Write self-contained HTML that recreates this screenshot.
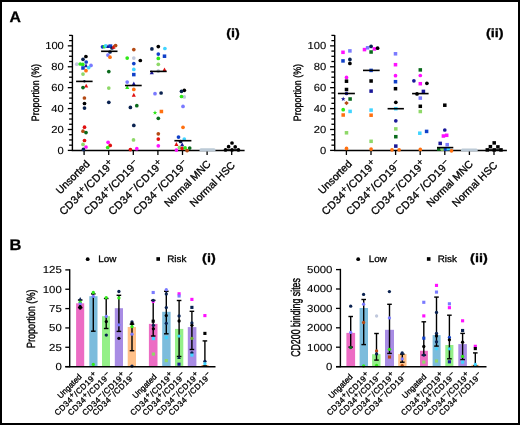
<!DOCTYPE html>
<html><head><meta charset="utf-8"><style>
html,body{margin:0;padding:0;background:#fff;}
svg{display:block;will-change:transform;}
text{font-family:"Liberation Sans",sans-serif;fill:#000;stroke:#000;stroke-width:0.3px;text-rendering:geometricPrecision;}
.tk{stroke-width:0.12px;}
</style></head><body>
<svg width="520" height="425" viewBox="0 0 520 425">
<rect x="0" y="0" width="520" height="425" fill="#fff"/>
<line x1="72.40" y1="35.09" x2="72.40" y2="151.05" stroke="#000" stroke-width="1.4"/>
<line x1="67.80" y1="150.40" x2="72.40" y2="150.40" stroke="#000" stroke-width="1.3"/>
<line x1="69.10" y1="145.17" x2="72.40" y2="145.17" stroke="#000" stroke-width="1.3"/>
<line x1="69.10" y1="139.94" x2="72.40" y2="139.94" stroke="#000" stroke-width="1.3"/>
<line x1="69.10" y1="134.72" x2="72.40" y2="134.72" stroke="#000" stroke-width="1.3"/>
<line x1="67.80" y1="129.49" x2="72.40" y2="129.49" stroke="#000" stroke-width="1.3"/>
<line x1="69.10" y1="124.26" x2="72.40" y2="124.26" stroke="#000" stroke-width="1.3"/>
<line x1="69.10" y1="119.03" x2="72.40" y2="119.03" stroke="#000" stroke-width="1.3"/>
<line x1="69.10" y1="113.81" x2="72.40" y2="113.81" stroke="#000" stroke-width="1.3"/>
<line x1="67.80" y1="108.58" x2="72.40" y2="108.58" stroke="#000" stroke-width="1.3"/>
<line x1="69.10" y1="103.35" x2="72.40" y2="103.35" stroke="#000" stroke-width="1.3"/>
<line x1="69.10" y1="98.12" x2="72.40" y2="98.12" stroke="#000" stroke-width="1.3"/>
<line x1="69.10" y1="92.90" x2="72.40" y2="92.90" stroke="#000" stroke-width="1.3"/>
<line x1="67.80" y1="87.67" x2="72.40" y2="87.67" stroke="#000" stroke-width="1.3"/>
<line x1="69.10" y1="82.44" x2="72.40" y2="82.44" stroke="#000" stroke-width="1.3"/>
<line x1="69.10" y1="77.22" x2="72.40" y2="77.22" stroke="#000" stroke-width="1.3"/>
<line x1="69.10" y1="71.99" x2="72.40" y2="71.99" stroke="#000" stroke-width="1.3"/>
<line x1="67.80" y1="66.76" x2="72.40" y2="66.76" stroke="#000" stroke-width="1.3"/>
<line x1="69.10" y1="61.53" x2="72.40" y2="61.53" stroke="#000" stroke-width="1.3"/>
<line x1="69.10" y1="56.30" x2="72.40" y2="56.30" stroke="#000" stroke-width="1.3"/>
<line x1="69.10" y1="51.08" x2="72.40" y2="51.08" stroke="#000" stroke-width="1.3"/>
<line x1="67.80" y1="45.85" x2="72.40" y2="45.85" stroke="#000" stroke-width="1.3"/>
<line x1="69.10" y1="40.62" x2="72.40" y2="40.62" stroke="#000" stroke-width="1.3"/>
<line x1="69.10" y1="35.39" x2="72.40" y2="35.39" stroke="#000" stroke-width="1.3"/>
<text transform="translate(63.85,154.00) scale(1.1,1)" font-size="10.2" text-anchor="end" font-weight="normal" class="tk">0</text>
<text transform="translate(63.85,133.09) scale(1.1,1)" font-size="10.2" text-anchor="end" font-weight="normal" class="tk">20</text>
<text transform="translate(63.85,112.18) scale(1.1,1)" font-size="10.2" text-anchor="end" font-weight="normal" class="tk">40</text>
<text transform="translate(63.85,91.27) scale(1.1,1)" font-size="10.2" text-anchor="end" font-weight="normal" class="tk">60</text>
<text transform="translate(63.85,70.36) scale(1.1,1)" font-size="10.2" text-anchor="end" font-weight="normal" class="tk">80</text>
<text transform="translate(63.85,49.45) scale(1.1,1)" font-size="10.2" text-anchor="end" font-weight="normal" class="tk">100</text>
<line x1="71.70" y1="150.40" x2="244.60" y2="150.40" stroke="#000" stroke-width="1.5"/>
<line x1="84.10" y1="150.40" x2="84.10" y2="155.00" stroke="#000" stroke-width="1.3"/>
<line x1="108.70" y1="150.40" x2="108.70" y2="155.00" stroke="#000" stroke-width="1.3"/>
<line x1="133.30" y1="150.40" x2="133.30" y2="155.00" stroke="#000" stroke-width="1.3"/>
<line x1="157.90" y1="150.40" x2="157.90" y2="155.00" stroke="#000" stroke-width="1.3"/>
<line x1="182.50" y1="150.40" x2="182.50" y2="155.00" stroke="#000" stroke-width="1.3"/>
<line x1="207.10" y1="150.40" x2="207.10" y2="155.00" stroke="#000" stroke-width="1.3"/>
<line x1="231.70" y1="150.40" x2="231.70" y2="155.00" stroke="#000" stroke-width="1.3"/>
<text transform="translate(38.90,92.6) rotate(-90) scale(1,1.2)" font-size="8.9" text-anchor="middle">Proportion (%)</text>
<text transform="translate(226.20,36.90) scale(1.2,1)" font-size="12" text-anchor="start" font-weight="bold" >(i)</text>
<circle cx="85.90" cy="56.50" r="1.85" fill="#000000"/>
<circle cx="83.00" cy="59.30" r="1.85" fill="#0a2250"/>
<circle cx="86.20" cy="62.00" r="1.85" fill="#1040c8"/>
<circle cx="76.80" cy="64.20" r="1.85" fill="#c0c8dc"/>
<circle cx="80.20" cy="64.00" r="1.85" fill="#30e818"/>
<circle cx="82.80" cy="64.40" r="1.85" fill="#30e818"/>
<circle cx="91.00" cy="65.40" r="1.85" fill="#7a7aff"/>
<path d="M86.00 63.46L88.03 67.33L83.97 67.33Z" fill="#1a1898"/>
<circle cx="88.70" cy="67.60" r="1.85" fill="#40d4ff"/>
<rect x="81.24" y="66.24" width="3.52" height="3.52" fill="#1040c8"/>
<circle cx="86.00" cy="70.70" r="1.85" fill="#ff7010"/>
<circle cx="83.00" cy="74.10" r="1.85" fill="#8ed868"/>
<circle cx="84.40" cy="81.20" r="1.20" fill="#0a2250"/>
<path d="M86.20 83.66L88.23 87.53L84.17 87.53Z" fill="#e01010"/>
<circle cx="83.00" cy="87.60" r="1.85" fill="#0a6a1c"/>
<circle cx="84.40" cy="98.00" r="1.85" fill="#b44a14"/>
<circle cx="84.50" cy="103.50" r="1.85" fill="#000000"/>
<circle cx="84.50" cy="108.10" r="1.85" fill="#0a2250"/>
<circle cx="84.50" cy="127.20" r="1.85" fill="#e01010"/>
<circle cx="83.00" cy="131.20" r="1.85" fill="#b44a14"/>
<circle cx="86.00" cy="132.60" r="1.85" fill="#0a6a1c"/>
<circle cx="84.50" cy="140.50" r="1.85" fill="#e01010"/>
<circle cx="83.00" cy="144.40" r="1.85" fill="#8ed868"/>
<circle cx="86.00" cy="147.00" r="1.85" fill="#ff10ff"/>
<circle cx="83.40" cy="149.40" r="1.85" fill="#0a2250"/>
<circle cx="102.50" cy="46.80" r="1.85" fill="#1040c8"/>
<circle cx="104.60" cy="46.60" r="1.85" fill="#30e818"/>
<circle cx="105.80" cy="45.90" r="1.85" fill="#40d4ff"/>
<path d="M108.10 44.16L110.13 48.03L106.06 48.03Z" fill="#1a1898"/>
<rect x="108.74" y="44.34" width="3.52" height="3.52" fill="#1040c8"/>
<circle cx="112.00" cy="48.00" r="1.85" fill="#0a2250"/>
<path d="M113.50 44.76L115.53 48.63L111.47 48.63Z" fill="#e01010"/>
<circle cx="115.60" cy="45.60" r="1.85" fill="#b44a14"/>
<circle cx="110.00" cy="52.00" r="1.85" fill="#0a2250"/>
<circle cx="107.90" cy="55.10" r="1.85" fill="#7a7aff"/>
<circle cx="110.00" cy="57.20" r="1.85" fill="#ff7010"/>
<circle cx="108.80" cy="71.60" r="1.85" fill="#0a6a1c"/>
<circle cx="108.80" cy="88.10" r="1.85" fill="#8ed868"/>
<circle cx="108.80" cy="102.30" r="1.85" fill="#0a2250"/>
<circle cx="108.10" cy="142.30" r="1.85" fill="#ff10ff"/>
<circle cx="110.20" cy="145.40" r="1.85" fill="#e01010"/>
<circle cx="107.70" cy="147.50" r="1.85" fill="#30e818"/>
<circle cx="133.80" cy="49.60" r="1.85" fill="#b44a14"/>
<circle cx="127.20" cy="58.10" r="1.85" fill="#30e818"/>
<circle cx="133.80" cy="58.10" r="1.85" fill="#c0c8dc"/>
<circle cx="140.30" cy="60.50" r="1.85" fill="#000000"/>
<circle cx="133.80" cy="63.60" r="1.85" fill="#1040c8"/>
<circle cx="133.80" cy="69.40" r="1.85" fill="#40d4ff"/>
<rect x="132.04" y="72.84" width="3.52" height="3.52" fill="#1040c8"/>
<circle cx="127.20" cy="82.10" r="1.85" fill="#7a7aff"/>
<path d="M133.80 81.56L135.84 85.43L131.77 85.43Z" fill="#1a1898"/>
<path d="M127.20 85.06L129.24 88.93L125.17 88.93Z" fill="#30e818"/>
<circle cx="133.80" cy="89.40" r="1.85" fill="#ff7010"/>
<path d="M133.80 92.86L135.84 96.73L131.77 96.73Z" fill="#e01010"/>
<circle cx="136.80" cy="105.70" r="1.85" fill="#0a6a1c"/>
<circle cx="130.40" cy="107.40" r="1.85" fill="#0a2250"/>
<circle cx="133.80" cy="125.40" r="1.85" fill="#0a2250"/>
<circle cx="133.50" cy="139.90" r="1.85" fill="#8ed868"/>
<circle cx="130.40" cy="149.60" r="1.85" fill="#e01010"/>
<circle cx="136.80" cy="148.70" r="1.85" fill="#ff10ff"/>
<circle cx="158.30" cy="46.60" r="1.85" fill="#000000"/>
<circle cx="151.90" cy="48.90" r="1.85" fill="#0a2250"/>
<circle cx="164.90" cy="48.50" r="1.85" fill="#40d4ff"/>
<circle cx="158.30" cy="54.10" r="1.85" fill="#1040c8"/>
<rect x="162.74" y="54.44" width="3.52" height="3.52" fill="#1040c8"/>
<circle cx="158.30" cy="58.40" r="1.85" fill="#30e818"/>
<circle cx="158.30" cy="64.30" r="1.85" fill="#8ed868"/>
<path d="M164.50 67.46L166.53 71.33L162.47 71.33Z" fill="#e01010"/>
<circle cx="158.30" cy="71.10" r="1.85" fill="#a8b4bc"/>
<path d="M151.80 70.26L153.84 74.13L149.77 74.13Z" fill="#1a1898"/>
<circle cx="155.00" cy="93.70" r="1.85" fill="#7a7aff"/>
<circle cx="161.10" cy="93.00" r="1.85" fill="#0a2250"/>
<path d="M155.00 110.30L155.60 111.88L157.29 111.96L155.97 113.01L156.41 114.65L155.00 113.72L153.59 114.65L154.03 113.01L152.71 111.96L154.40 111.88Z" fill="#30e818"/>
<rect x="159.64" y="109.74" width="3.52" height="3.52" fill="#ff7010"/>
<circle cx="158.30" cy="118.30" r="1.85" fill="#0a6a1c"/>
<circle cx="158.30" cy="133.80" r="1.85" fill="#b44a14"/>
<circle cx="158.30" cy="139.10" r="1.85" fill="#e01010"/>
<circle cx="158.30" cy="145.80" r="1.85" fill="#ff10ff"/>
<circle cx="184.30" cy="90.30" r="1.85" fill="#000000"/>
<circle cx="181.50" cy="91.30" r="1.85" fill="#0a2250"/>
<circle cx="184.30" cy="96.90" r="1.85" fill="#c0c8dc"/>
<circle cx="181.50" cy="96.50" r="1.85" fill="#30e818"/>
<circle cx="183.00" cy="106.40" r="1.85" fill="#7a7aff"/>
<circle cx="183.00" cy="127.30" r="1.85" fill="#ff7010"/>
<circle cx="178.50" cy="137.10" r="1.85" fill="#1040c8"/>
<circle cx="184.30" cy="139.00" r="1.85" fill="#40d4ff"/>
<circle cx="180.50" cy="141.50" r="1.85" fill="#0a2250"/>
<path d="M176.40 142.06L178.44 145.93L174.37 145.93Z" fill="#e01010"/>
<path d="M182.20 142.36L184.23 146.23L180.16 146.23Z" fill="#1a1898"/>
<circle cx="179.40" cy="147.60" r="1.85" fill="#8ed868"/>
<circle cx="182.20" cy="148.40" r="1.85" fill="#e01010"/>
<circle cx="185.10" cy="147.90" r="1.85" fill="#30e818"/>
<circle cx="176.40" cy="150.10" r="1.85" fill="#ff10ff"/>
<circle cx="187.10" cy="150.60" r="1.85" fill="#b44a14"/>
<circle cx="189.70" cy="148.10" r="1.85" fill="#0a6a1c"/>
<circle cx="225.50" cy="149.90" r="1.85" fill="#000000"/>
<circle cx="228.60" cy="146.70" r="1.85" fill="#000000"/>
<circle cx="232.00" cy="143.00" r="1.85" fill="#000000"/>
<circle cx="235.20" cy="146.90" r="1.85" fill="#000000"/>
<circle cx="238.40" cy="149.90" r="1.85" fill="#000000"/>
<circle cx="232.00" cy="149.90" r="1.85" fill="#000000"/>
<line x1="76.10" y1="81.40" x2="92.60" y2="81.40" stroke="#000" stroke-width="1.6"/>
<line x1="101.10" y1="51.30" x2="117.50" y2="51.30" stroke="#000" stroke-width="1.6"/>
<line x1="125.00" y1="85.50" x2="141.70" y2="85.50" stroke="#000" stroke-width="1.6"/>
<line x1="150.00" y1="71.40" x2="166.70" y2="71.40" stroke="#000" stroke-width="1.6"/>
<line x1="174.40" y1="140.70" x2="191.40" y2="140.70" stroke="#000" stroke-width="1.6"/>
<line x1="224.00" y1="150.00" x2="240.00" y2="150.00" stroke="#000" stroke-width="1.6"/>
<text transform="translate(90.30,164.60) rotate(-45)" font-size="10.5" text-anchor="end">Unsorted</text>
<text transform="translate(114.90,164.60) rotate(-45)" font-size="10.8" text-anchor="end" textLength="72.5" lengthAdjust="spacing">CD34<tspan dy="-3.3" font-size="9.6">+</tspan><tspan dy="3.3">/CD19</tspan><tspan dy="-3.3" font-size="9.6">+</tspan></text>
<text transform="translate(139.50,164.60) rotate(-45)" font-size="10.8" text-anchor="end" textLength="72.5" lengthAdjust="spacing">CD34<tspan dy="-3.3" font-size="9.6">+</tspan><tspan dy="3.3">/CD19</tspan><tspan dy="-3.3" font-size="9.6">−</tspan></text>
<text transform="translate(164.10,164.60) rotate(-45)" font-size="10.8" text-anchor="end" textLength="72.5" lengthAdjust="spacing">CD34<tspan dy="-3.3" font-size="9.6">−</tspan><tspan dy="3.3">/CD19</tspan><tspan dy="-3.3" font-size="9.6">+</tspan></text>
<text transform="translate(188.70,164.60) rotate(-45)" font-size="10.8" text-anchor="end" textLength="72.5" lengthAdjust="spacing">CD34<tspan dy="-3.3" font-size="9.6">−</tspan><tspan dy="3.3">/CD19</tspan><tspan dy="-3.3" font-size="9.6">−</tspan></text>
<text transform="translate(211.40,164.60) rotate(-45)" font-size="10.5" text-anchor="end">Normal MNC</text>
<text transform="translate(235.70,165.80) rotate(-45)" font-size="10.5" text-anchor="end">Normal HSC</text>
<line x1="334.70" y1="35.09" x2="334.70" y2="151.05" stroke="#000" stroke-width="1.4"/>
<line x1="330.10" y1="150.40" x2="334.70" y2="150.40" stroke="#000" stroke-width="1.3"/>
<line x1="331.40" y1="145.17" x2="334.70" y2="145.17" stroke="#000" stroke-width="1.3"/>
<line x1="331.40" y1="139.94" x2="334.70" y2="139.94" stroke="#000" stroke-width="1.3"/>
<line x1="331.40" y1="134.72" x2="334.70" y2="134.72" stroke="#000" stroke-width="1.3"/>
<line x1="330.10" y1="129.49" x2="334.70" y2="129.49" stroke="#000" stroke-width="1.3"/>
<line x1="331.40" y1="124.26" x2="334.70" y2="124.26" stroke="#000" stroke-width="1.3"/>
<line x1="331.40" y1="119.03" x2="334.70" y2="119.03" stroke="#000" stroke-width="1.3"/>
<line x1="331.40" y1="113.81" x2="334.70" y2="113.81" stroke="#000" stroke-width="1.3"/>
<line x1="330.10" y1="108.58" x2="334.70" y2="108.58" stroke="#000" stroke-width="1.3"/>
<line x1="331.40" y1="103.35" x2="334.70" y2="103.35" stroke="#000" stroke-width="1.3"/>
<line x1="331.40" y1="98.12" x2="334.70" y2="98.12" stroke="#000" stroke-width="1.3"/>
<line x1="331.40" y1="92.90" x2="334.70" y2="92.90" stroke="#000" stroke-width="1.3"/>
<line x1="330.10" y1="87.67" x2="334.70" y2="87.67" stroke="#000" stroke-width="1.3"/>
<line x1="331.40" y1="82.44" x2="334.70" y2="82.44" stroke="#000" stroke-width="1.3"/>
<line x1="331.40" y1="77.22" x2="334.70" y2="77.22" stroke="#000" stroke-width="1.3"/>
<line x1="331.40" y1="71.99" x2="334.70" y2="71.99" stroke="#000" stroke-width="1.3"/>
<line x1="330.10" y1="66.76" x2="334.70" y2="66.76" stroke="#000" stroke-width="1.3"/>
<line x1="331.40" y1="61.53" x2="334.70" y2="61.53" stroke="#000" stroke-width="1.3"/>
<line x1="331.40" y1="56.30" x2="334.70" y2="56.30" stroke="#000" stroke-width="1.3"/>
<line x1="331.40" y1="51.08" x2="334.70" y2="51.08" stroke="#000" stroke-width="1.3"/>
<line x1="330.10" y1="45.85" x2="334.70" y2="45.85" stroke="#000" stroke-width="1.3"/>
<line x1="331.40" y1="40.62" x2="334.70" y2="40.62" stroke="#000" stroke-width="1.3"/>
<line x1="331.40" y1="35.39" x2="334.70" y2="35.39" stroke="#000" stroke-width="1.3"/>
<text transform="translate(326.15,154.00) scale(1.1,1)" font-size="10.2" text-anchor="end" font-weight="normal" class="tk">0</text>
<text transform="translate(326.15,133.09) scale(1.1,1)" font-size="10.2" text-anchor="end" font-weight="normal" class="tk">20</text>
<text transform="translate(326.15,112.18) scale(1.1,1)" font-size="10.2" text-anchor="end" font-weight="normal" class="tk">40</text>
<text transform="translate(326.15,91.27) scale(1.1,1)" font-size="10.2" text-anchor="end" font-weight="normal" class="tk">60</text>
<text transform="translate(326.15,70.36) scale(1.1,1)" font-size="10.2" text-anchor="end" font-weight="normal" class="tk">80</text>
<text transform="translate(326.15,49.45) scale(1.1,1)" font-size="10.2" text-anchor="end" font-weight="normal" class="tk">100</text>
<line x1="334.00" y1="150.40" x2="506.90" y2="150.40" stroke="#000" stroke-width="1.5"/>
<line x1="346.40" y1="150.40" x2="346.40" y2="155.00" stroke="#000" stroke-width="1.3"/>
<line x1="371.00" y1="150.40" x2="371.00" y2="155.00" stroke="#000" stroke-width="1.3"/>
<line x1="395.60" y1="150.40" x2="395.60" y2="155.00" stroke="#000" stroke-width="1.3"/>
<line x1="420.20" y1="150.40" x2="420.20" y2="155.00" stroke="#000" stroke-width="1.3"/>
<line x1="444.80" y1="150.40" x2="444.80" y2="155.00" stroke="#000" stroke-width="1.3"/>
<line x1="469.40" y1="150.40" x2="469.40" y2="155.00" stroke="#000" stroke-width="1.3"/>
<line x1="494.00" y1="150.40" x2="494.00" y2="155.00" stroke="#000" stroke-width="1.3"/>
<text transform="translate(301.20,92.6) rotate(-90) scale(1,1.2)" font-size="8.9" text-anchor="middle">Proportion (%)</text>
<text transform="translate(486.00,36.90) scale(1.2,1)" font-size="12" text-anchor="start" font-weight="bold" >(ii)</text>
<rect x="341.24" y="50.54" width="3.52" height="3.52" fill="#ff10ff"/>
<rect x="348.14" y="49.14" width="3.52" height="3.52" fill="#7a7aff"/>
<rect x="341.24" y="59.14" width="3.52" height="3.52" fill="#1040c8"/>
<circle cx="349.90" cy="59.40" r="1.85" fill="#0a2250"/>
<circle cx="349.90" cy="63.40" r="1.85" fill="#000000"/>
<circle cx="346.50" cy="77.40" r="1.85" fill="#ff10ff"/>
<rect x="344.74" y="79.44" width="3.52" height="3.52" fill="#000000"/>
<rect x="344.74" y="87.74" width="3.52" height="3.52" fill="#000000"/>
<circle cx="346.50" cy="93.50" r="1.85" fill="#1a1898"/>
<path d="M343.20 96.59L343.80 98.18L345.49 98.26L344.17 99.31L344.61 100.95L343.20 100.02L341.79 100.95L342.23 99.31L340.91 98.26L342.60 98.18Z" fill="#1a1898"/>
<rect x="348.34" y="97.24" width="3.52" height="3.52" fill="#0a6a1c"/>
<path d="M346.50 100.88L348.72 103.10L346.50 105.32L344.28 103.10Z" fill="#b44a14"/>
<circle cx="343.20" cy="109.70" r="1.85" fill="#30e818"/>
<rect x="348.34" y="109.64" width="3.52" height="3.52" fill="#40d4ff"/>
<rect x="341.44" y="113.24" width="3.52" height="3.52" fill="#ff7010"/>
<rect x="344.74" y="131.04" width="3.52" height="3.52" fill="#8ed868"/>
<circle cx="346.50" cy="148.40" r="1.85" fill="#ff7010"/>
<rect x="362.74" y="47.84" width="3.52" height="3.52" fill="#ff10ff"/>
<rect x="365.84" y="46.04" width="3.52" height="3.52" fill="#7a7aff"/>
<circle cx="371.10" cy="46.40" r="1.85" fill="#0a2250"/>
<rect x="372.64" y="47.14" width="3.52" height="3.52" fill="#ff10ff"/>
<circle cx="377.60" cy="48.20" r="1.85" fill="#000000"/>
<rect x="369.34" y="50.24" width="3.52" height="3.52" fill="#0a6a1c"/>
<rect x="369.34" y="68.64" width="3.52" height="3.52" fill="#1040c8"/>
<rect x="369.34" y="79.24" width="3.52" height="3.52" fill="#000000"/>
<rect x="369.34" y="89.34" width="3.52" height="3.52" fill="#1a1898"/>
<rect x="369.34" y="108.34" width="3.52" height="3.52" fill="#40d4ff"/>
<rect x="369.34" y="113.44" width="3.52" height="3.52" fill="#ff7010"/>
<rect x="369.34" y="139.54" width="3.52" height="3.52" fill="#8ed868"/>
<circle cx="371.10" cy="149.10" r="1.85" fill="#ff7010"/>
<rect x="393.74" y="52.04" width="3.52" height="3.52" fill="#7a7aff"/>
<rect x="393.74" y="62.94" width="3.52" height="3.52" fill="#ff10ff"/>
<circle cx="395.50" cy="75.70" r="1.85" fill="#ff10ff"/>
<rect x="393.74" y="79.94" width="3.52" height="3.52" fill="#1040c8"/>
<rect x="393.74" y="86.94" width="3.52" height="3.52" fill="#000000"/>
<circle cx="395.80" cy="102.30" r="1.85" fill="#000000"/>
<rect x="394.04" y="106.94" width="3.52" height="3.52" fill="#40d4ff"/>
<circle cx="395.80" cy="120.80" r="1.85" fill="#1a1898"/>
<rect x="394.04" y="127.14" width="3.52" height="3.52" fill="#8ed868"/>
<rect x="394.04" y="134.94" width="3.52" height="3.52" fill="#0a6a1c"/>
<rect x="394.04" y="144.34" width="3.52" height="3.52" fill="#1a1898"/>
<circle cx="392.00" cy="149.80" r="1.85" fill="#ff7010"/>
<circle cx="399.10" cy="149.80" r="1.85" fill="#ff7010"/>
<rect x="418.54" y="68.14" width="3.52" height="3.52" fill="#0a6a1c"/>
<circle cx="420.30" cy="75.50" r="1.85" fill="#ff10ff"/>
<circle cx="413.90" cy="80.80" r="1.85" fill="#1a1898"/>
<rect x="418.54" y="81.94" width="3.52" height="3.52" fill="#ff10ff"/>
<circle cx="426.90" cy="83.30" r="1.85" fill="#000000"/>
<rect x="421.64" y="89.64" width="3.52" height="3.52" fill="#1a1898"/>
<circle cx="417.00" cy="93.90" r="1.85" fill="#000000"/>
<rect x="418.54" y="96.34" width="3.52" height="3.52" fill="#7a7aff"/>
<rect x="418.54" y="104.54" width="3.52" height="3.52" fill="#000000"/>
<rect x="418.54" y="109.74" width="3.52" height="3.52" fill="#8ed868"/>
<rect x="418.04" y="131.44" width="3.52" height="3.52" fill="#40d4ff"/>
<rect x="424.84" y="129.64" width="3.52" height="3.52" fill="#1040c8"/>
<circle cx="420.30" cy="149.40" r="1.85" fill="#ff7010"/>
<rect x="443.04" y="103.44" width="3.52" height="3.52" fill="#000000"/>
<circle cx="444.80" cy="130.00" r="1.85" fill="#1a1898"/>
<rect x="441.64" y="134.24" width="3.52" height="3.52" fill="#ff10ff"/>
<rect x="444.94" y="133.54" width="3.52" height="3.52" fill="#ff10ff"/>
<rect x="438.44" y="141.64" width="3.52" height="3.52" fill="#1a1898"/>
<rect x="445.44" y="142.94" width="3.52" height="3.52" fill="#7a7aff"/>
<rect x="437.04" y="147.34" width="3.52" height="3.52" fill="#0a6a1c"/>
<rect x="440.64" y="147.34" width="3.52" height="3.52" fill="#8ed868"/>
<rect x="443.74" y="147.34" width="3.52" height="3.52" fill="#1040c8"/>
<rect x="446.64" y="146.94" width="3.52" height="3.52" fill="#40d4ff"/>
<circle cx="451.50" cy="150.80" r="1.85" fill="#ff7010"/>
<rect x="485.54" y="148.14" width="3.52" height="3.52" fill="#000000"/>
<rect x="488.64" y="144.94" width="3.52" height="3.52" fill="#000000"/>
<rect x="492.44" y="141.14" width="3.52" height="3.52" fill="#000000"/>
<rect x="496.14" y="145.14" width="3.52" height="3.52" fill="#000000"/>
<rect x="499.24" y="148.14" width="3.52" height="3.52" fill="#000000"/>
<rect x="492.44" y="148.14" width="3.52" height="3.52" fill="#000000"/>
<line x1="337.90" y1="93.50" x2="354.90" y2="93.50" stroke="#000" stroke-width="1.6"/>
<line x1="363.00" y1="70.40" x2="379.70" y2="70.40" stroke="#000" stroke-width="1.6"/>
<line x1="387.60" y1="108.70" x2="403.90" y2="108.70" stroke="#000" stroke-width="1.6"/>
<line x1="412.10" y1="93.60" x2="428.60" y2="93.60" stroke="#000" stroke-width="1.6"/>
<line x1="437.00" y1="147.60" x2="453.30" y2="147.60" stroke="#000" stroke-width="1.6"/>
<line x1="486.00" y1="150.00" x2="502.00" y2="150.00" stroke="#000" stroke-width="1.6"/>
<text transform="translate(352.60,164.60) rotate(-45)" font-size="10.5" text-anchor="end">Unsorted</text>
<text transform="translate(377.20,164.60) rotate(-45)" font-size="10.8" text-anchor="end" textLength="72.5" lengthAdjust="spacing">CD34<tspan dy="-3.3" font-size="9.6">+</tspan><tspan dy="3.3">/CD19</tspan><tspan dy="-3.3" font-size="9.6">+</tspan></text>
<text transform="translate(401.80,164.60) rotate(-45)" font-size="10.8" text-anchor="end" textLength="72.5" lengthAdjust="spacing">CD34<tspan dy="-3.3" font-size="9.6">+</tspan><tspan dy="3.3">/CD19</tspan><tspan dy="-3.3" font-size="9.6">−</tspan></text>
<text transform="translate(426.40,164.60) rotate(-45)" font-size="10.8" text-anchor="end" textLength="72.5" lengthAdjust="spacing">CD34<tspan dy="-3.3" font-size="9.6">−</tspan><tspan dy="3.3">/CD19</tspan><tspan dy="-3.3" font-size="9.6">+</tspan></text>
<text transform="translate(451.00,164.60) rotate(-45)" font-size="10.8" text-anchor="end" textLength="72.5" lengthAdjust="spacing">CD34<tspan dy="-3.3" font-size="9.6">−</tspan><tspan dy="3.3">/CD19</tspan><tspan dy="-3.3" font-size="9.6">−</tspan></text>
<text transform="translate(473.70,164.60) rotate(-45)" font-size="10.5" text-anchor="end">Normal MNC</text>
<text transform="translate(498.00,165.80) rotate(-45)" font-size="10.5" text-anchor="end">Normal HSC</text>
<rect x="199.4" y="148.3" width="16.20" height="3.30" rx="1.5" fill="#bccad6"/>
<rect x="460.8" y="148.4" width="17.00" height="3.00" rx="1.5" fill="#bccad6"/>
<text transform="translate(9.50,21.70) scale(1.04,1)" font-size="15.2" text-anchor="start" font-weight="bold" >A</text>
<rect x="76.10" y="303.30" width="8.10" height="63.40" fill="#ec6cc4"/>
<rect x="89.30" y="296.20" width="8.20" height="70.50" fill="#7cbcdc"/>
<rect x="102.00" y="316.20" width="8.00" height="50.50" fill="#94f088"/>
<rect x="114.80" y="308.20" width="8.20" height="58.50" fill="#a88ce4"/>
<rect x="127.70" y="327.00" width="8.30" height="39.70" fill="#ffc088"/>
<rect x="148.90" y="323.90" width="8.60" height="42.80" fill="#ec6cc4"/>
<rect x="162.20" y="311.80" width="8.40" height="54.90" fill="#7cbcdc"/>
<rect x="175.00" y="328.90" width="8.30" height="37.80" fill="#94f088"/>
<rect x="187.80" y="327.10" width="8.60" height="39.60" fill="#a88ce4"/>
<rect x="201.20" y="365.00" width="7.50" height="1.70" fill="#ffc088"/>
<line x1="80.20" y1="300.00" x2="80.20" y2="307.60" stroke="#000" stroke-width="1.4"/>
<line x1="77.90" y1="300.00" x2="82.50" y2="300.00" stroke="#000" stroke-width="1.4"/>
<line x1="77.90" y1="307.60" x2="82.50" y2="307.60" stroke="#000" stroke-width="1.4"/>
<line x1="93.30" y1="293.90" x2="93.30" y2="331.20" stroke="#000" stroke-width="1.4"/>
<line x1="91.00" y1="293.90" x2="95.60" y2="293.90" stroke="#000" stroke-width="1.4"/>
<line x1="91.00" y1="331.20" x2="95.60" y2="331.20" stroke="#000" stroke-width="1.4"/>
<line x1="106.20" y1="298.50" x2="106.20" y2="328.50" stroke="#000" stroke-width="1.4"/>
<line x1="103.90" y1="298.50" x2="108.50" y2="298.50" stroke="#000" stroke-width="1.4"/>
<line x1="103.90" y1="328.50" x2="108.50" y2="328.50" stroke="#000" stroke-width="1.4"/>
<line x1="118.90" y1="295.30" x2="118.90" y2="331.40" stroke="#000" stroke-width="1.4"/>
<line x1="116.60" y1="295.30" x2="121.20" y2="295.30" stroke="#000" stroke-width="1.4"/>
<line x1="116.60" y1="331.40" x2="121.20" y2="331.40" stroke="#000" stroke-width="1.4"/>
<line x1="132.00" y1="324.20" x2="132.00" y2="350.70" stroke="#000" stroke-width="1.4"/>
<line x1="129.70" y1="324.20" x2="134.30" y2="324.20" stroke="#000" stroke-width="1.4"/>
<line x1="129.70" y1="350.70" x2="134.30" y2="350.70" stroke="#000" stroke-width="1.4"/>
<line x1="153.20" y1="300.40" x2="153.20" y2="336.00" stroke="#000" stroke-width="1.4"/>
<line x1="150.90" y1="300.40" x2="155.50" y2="300.40" stroke="#000" stroke-width="1.4"/>
<line x1="150.90" y1="336.00" x2="155.50" y2="336.00" stroke="#000" stroke-width="1.4"/>
<line x1="166.30" y1="291.30" x2="166.30" y2="333.80" stroke="#000" stroke-width="1.4"/>
<line x1="164.00" y1="291.30" x2="168.60" y2="291.30" stroke="#000" stroke-width="1.4"/>
<line x1="164.00" y1="333.80" x2="168.60" y2="333.80" stroke="#000" stroke-width="1.4"/>
<line x1="179.10" y1="300.50" x2="179.10" y2="356.50" stroke="#000" stroke-width="1.4"/>
<line x1="176.80" y1="300.50" x2="181.40" y2="300.50" stroke="#000" stroke-width="1.4"/>
<line x1="176.80" y1="356.50" x2="181.40" y2="356.50" stroke="#000" stroke-width="1.4"/>
<line x1="191.90" y1="311.30" x2="191.90" y2="349.50" stroke="#000" stroke-width="1.4"/>
<line x1="189.60" y1="311.30" x2="194.20" y2="311.30" stroke="#000" stroke-width="1.4"/>
<line x1="189.60" y1="349.50" x2="194.20" y2="349.50" stroke="#000" stroke-width="1.4"/>
<line x1="204.90" y1="340.90" x2="204.90" y2="366.00" stroke="#000" stroke-width="1.4"/>
<line x1="202.60" y1="340.90" x2="207.20" y2="340.90" stroke="#000" stroke-width="1.4"/>
<line x1="202.60" y1="366.00" x2="207.20" y2="366.00" stroke="#000" stroke-width="1.4"/>
<path d="M80.20 297.10L82.02 300.55L78.39 300.55Z" fill="#0a2250"/>
<circle cx="80.20" cy="302.20" r="1.65" fill="#30e818"/>
<circle cx="80.20" cy="303.80" r="1.65" fill="#7a7aff"/>
<circle cx="80.20" cy="306.60" r="1.65" fill="#000000"/>
<circle cx="80.20" cy="308.00" r="1.65" fill="#000000"/>
<circle cx="93.30" cy="292.50" r="1.65" fill="#30e818"/>
<circle cx="93.30" cy="296.30" r="1.65" fill="#7a7aff"/>
<circle cx="93.30" cy="364.40" r="1.65" fill="#30e818"/>
<circle cx="106.20" cy="297.70" r="1.65" fill="#30e818"/>
<circle cx="106.30" cy="316.30" r="1.65" fill="#7a7aff"/>
<circle cx="106.30" cy="321.60" r="1.65" fill="#000000"/>
<circle cx="106.30" cy="335.10" r="1.65" fill="#0a2250"/>
<circle cx="118.90" cy="291.50" r="1.65" fill="#0a2250"/>
<circle cx="118.90" cy="297.90" r="1.65" fill="#30e818"/>
<circle cx="118.90" cy="324.80" r="1.65" fill="#7a7aff"/>
<circle cx="118.90" cy="338.30" r="1.65" fill="#000000"/>
<circle cx="132.00" cy="322.00" r="1.65" fill="#0a2250"/>
<circle cx="132.00" cy="323.50" r="1.65" fill="#000000"/>
<circle cx="132.00" cy="326.70" r="1.65" fill="#30e818"/>
<circle cx="132.00" cy="334.20" r="1.65" fill="#7a7aff"/>
<circle cx="132.00" cy="366.10" r="1.65" fill="#0a2250"/>
<rect x="151.63" y="290.93" width="3.13" height="3.13" fill="#7a7aff"/>
<circle cx="153.20" cy="301.50" r="1.65" fill="#ff10ff"/>
<circle cx="153.20" cy="300.30" r="1.65" fill="#0a2250"/>
<rect x="151.63" y="319.63" width="3.13" height="3.13" fill="#000000"/>
<circle cx="153.40" cy="325.30" r="1.65" fill="#0a2250"/>
<circle cx="153.40" cy="328.80" r="1.65" fill="#000000"/>
<rect x="151.83" y="337.03" width="3.13" height="3.13" fill="#40d4ff"/>
<rect x="151.83" y="352.53" width="3.13" height="3.13" fill="#8ed868"/>
<circle cx="166.30" cy="289.70" r="1.65" fill="#7a7aff"/>
<circle cx="166.30" cy="293.90" r="1.65" fill="#0a2250"/>
<circle cx="166.30" cy="307.60" r="1.65" fill="#0a2250"/>
<circle cx="166.30" cy="315.60" r="1.65" fill="#000000"/>
<circle cx="166.30" cy="323.30" r="1.65" fill="#0a2250"/>
<rect x="164.73" y="336.03" width="3.13" height="3.13" fill="#40d4ff"/>
<rect x="164.73" y="359.03" width="3.13" height="3.13" fill="#8ed868"/>
<rect x="177.53" y="292.23" width="3.13" height="3.13" fill="#ff10ff"/>
<rect x="177.53" y="294.43" width="3.13" height="3.13" fill="#7a7aff"/>
<circle cx="179.10" cy="315.90" r="1.65" fill="#0a2250"/>
<circle cx="179.10" cy="321.00" r="1.65" fill="#000000"/>
<circle cx="179.00" cy="336.10" r="1.65" fill="#40d4ff"/>
<path d="M179.00 355.50L180.81 358.95L177.19 358.95Z" fill="#0a2250"/>
<rect x="177.43" y="362.63" width="3.13" height="3.13" fill="#1a1898"/>
<rect x="190.33" y="297.83" width="3.13" height="3.13" fill="#ff10ff"/>
<rect x="190.33" y="305.83" width="3.13" height="3.13" fill="#0a2250"/>
<circle cx="191.90" cy="322.90" r="1.65" fill="#0a2250"/>
<circle cx="191.90" cy="325.30" r="1.65" fill="#000000"/>
<circle cx="191.90" cy="338.40" r="1.65" fill="#70b030"/>
<circle cx="191.90" cy="352.80" r="1.65" fill="#0a2250"/>
<rect x="190.33" y="353.53" width="3.13" height="3.13" fill="#40d4ff"/>
<rect x="203.33" y="314.03" width="3.13" height="3.13" fill="#ff10ff"/>
<rect x="203.33" y="331.83" width="3.13" height="3.13" fill="#000000"/>
<circle cx="204.90" cy="361.30" r="1.65" fill="#0a2250"/>
<circle cx="204.90" cy="363.70" r="1.65" fill="#40d4ff"/>
<line x1="69.70" y1="269.30" x2="69.70" y2="367.30" stroke="#000" stroke-width="1.4"/>
<line x1="65.30" y1="366.70" x2="215.50" y2="366.70" stroke="#000" stroke-width="1.6"/>
<line x1="65.30" y1="269.90" x2="69.70" y2="269.90" stroke="#000" stroke-width="1.3"/>
<text transform="translate(61.75,273.35) scale(1.12,1)" font-size="10.2" text-anchor="end" font-weight="normal" class="tk">125</text>
<line x1="65.30" y1="289.24" x2="69.70" y2="289.24" stroke="#000" stroke-width="1.3"/>
<text transform="translate(61.75,292.69) scale(1.12,1)" font-size="10.2" text-anchor="end" font-weight="normal" class="tk">100</text>
<line x1="65.30" y1="308.58" x2="69.70" y2="308.58" stroke="#000" stroke-width="1.3"/>
<text transform="translate(61.75,312.03) scale(1.12,1)" font-size="10.2" text-anchor="end" font-weight="normal" class="tk">75</text>
<line x1="65.30" y1="327.92" x2="69.70" y2="327.92" stroke="#000" stroke-width="1.3"/>
<text transform="translate(61.75,331.37) scale(1.12,1)" font-size="10.2" text-anchor="end" font-weight="normal" class="tk">50</text>
<line x1="65.30" y1="347.26" x2="69.70" y2="347.26" stroke="#000" stroke-width="1.3"/>
<text transform="translate(61.75,350.71) scale(1.12,1)" font-size="10.2" text-anchor="end" font-weight="normal" class="tk">25</text>
<line x1="65.30" y1="366.60" x2="69.70" y2="366.60" stroke="#000" stroke-width="1.3"/>
<text transform="translate(61.75,370.05) scale(1.12,1)" font-size="10.2" text-anchor="end" font-weight="normal" class="tk">0</text>
<text transform="translate(202.10,261.50) scale(1.2,1)" font-size="12" text-anchor="start" font-weight="bold" >(i)</text>
<rect x="346.40" y="332.90" width="8.70" height="33.80" fill="#ec6cc4"/>
<rect x="359.60" y="308.00" width="8.40" height="58.70" fill="#7cbcdc"/>
<rect x="372.10" y="354.20" width="8.40" height="12.50" fill="#94f088"/>
<rect x="385.00" y="329.80" width="9.00" height="36.90" fill="#a88ce4"/>
<rect x="398.20" y="354.10" width="8.30" height="12.60" fill="#ffc088"/>
<rect x="420.00" y="350.80" width="7.90" height="15.90" fill="#ec6cc4"/>
<rect x="432.60" y="335.10" width="8.00" height="31.60" fill="#7cbcdc"/>
<rect x="445.30" y="345.00" width="8.10" height="21.70" fill="#94f088"/>
<rect x="458.30" y="344.10" width="8.60" height="22.60" fill="#a88ce4"/>
<rect x="471.40" y="364.80" width="7.80" height="1.90" fill="#ffc088"/>
<line x1="350.70" y1="316.50" x2="350.70" y2="347.10" stroke="#000" stroke-width="1.4"/>
<line x1="348.40" y1="316.50" x2="353.00" y2="316.50" stroke="#000" stroke-width="1.4"/>
<line x1="348.40" y1="347.10" x2="353.00" y2="347.10" stroke="#000" stroke-width="1.4"/>
<line x1="363.70" y1="299.50" x2="363.70" y2="344.60" stroke="#000" stroke-width="1.4"/>
<line x1="361.40" y1="299.50" x2="366.00" y2="299.50" stroke="#000" stroke-width="1.4"/>
<line x1="361.40" y1="344.60" x2="366.00" y2="344.60" stroke="#000" stroke-width="1.4"/>
<line x1="376.50" y1="333.50" x2="376.50" y2="360.10" stroke="#000" stroke-width="1.4"/>
<line x1="374.20" y1="333.50" x2="378.80" y2="333.50" stroke="#000" stroke-width="1.4"/>
<line x1="374.20" y1="360.10" x2="378.80" y2="360.10" stroke="#000" stroke-width="1.4"/>
<line x1="389.50" y1="304.30" x2="389.50" y2="353.40" stroke="#000" stroke-width="1.4"/>
<line x1="387.20" y1="304.30" x2="391.80" y2="304.30" stroke="#000" stroke-width="1.4"/>
<line x1="387.20" y1="353.40" x2="391.80" y2="353.40" stroke="#000" stroke-width="1.4"/>
<line x1="402.30" y1="354.10" x2="402.30" y2="362.20" stroke="#000" stroke-width="1.4"/>
<line x1="400.00" y1="354.10" x2="404.60" y2="354.10" stroke="#000" stroke-width="1.4"/>
<line x1="400.00" y1="362.20" x2="404.60" y2="362.20" stroke="#000" stroke-width="1.4"/>
<line x1="423.80" y1="321.80" x2="423.80" y2="355.10" stroke="#000" stroke-width="1.4"/>
<line x1="421.50" y1="321.80" x2="426.10" y2="321.80" stroke="#000" stroke-width="1.4"/>
<line x1="421.50" y1="355.10" x2="426.10" y2="355.10" stroke="#000" stroke-width="1.4"/>
<line x1="436.50" y1="297.10" x2="436.50" y2="346.10" stroke="#000" stroke-width="1.4"/>
<line x1="434.20" y1="297.10" x2="438.80" y2="297.10" stroke="#000" stroke-width="1.4"/>
<line x1="434.20" y1="346.10" x2="438.80" y2="346.10" stroke="#000" stroke-width="1.4"/>
<line x1="449.40" y1="315.20" x2="449.40" y2="358.80" stroke="#000" stroke-width="1.4"/>
<line x1="447.10" y1="315.20" x2="451.70" y2="315.20" stroke="#000" stroke-width="1.4"/>
<line x1="447.10" y1="358.80" x2="451.70" y2="358.80" stroke="#000" stroke-width="1.4"/>
<line x1="462.60" y1="333.40" x2="462.60" y2="359.60" stroke="#000" stroke-width="1.4"/>
<line x1="460.30" y1="333.40" x2="464.90" y2="333.40" stroke="#000" stroke-width="1.4"/>
<line x1="460.30" y1="359.60" x2="464.90" y2="359.60" stroke="#000" stroke-width="1.4"/>
<line x1="475.30" y1="352.90" x2="475.30" y2="366.00" stroke="#000" stroke-width="1.4"/>
<line x1="473.00" y1="352.90" x2="477.60" y2="352.90" stroke="#000" stroke-width="1.4"/>
<line x1="473.00" y1="366.00" x2="477.60" y2="366.00" stroke="#000" stroke-width="1.4"/>
<circle cx="350.70" cy="306.20" r="1.65" fill="#0a2250"/>
<circle cx="350.70" cy="332.40" r="1.65" fill="#7a7aff"/>
<circle cx="350.70" cy="347.60" r="1.65" fill="#0a6a1c"/>
<circle cx="363.60" cy="294.40" r="1.65" fill="#0a2250"/>
<circle cx="363.60" cy="304.20" r="1.65" fill="#7a7aff"/>
<circle cx="363.60" cy="322.50" r="1.65" fill="#b44a14"/>
<circle cx="363.60" cy="366.00" r="1.65" fill="#30e818"/>
<circle cx="376.60" cy="316.00" r="1.65" fill="#c0c8dc"/>
<circle cx="376.60" cy="350.90" r="1.65" fill="#b44a14"/>
<circle cx="376.60" cy="353.90" r="1.65" fill="#0a2250"/>
<circle cx="376.60" cy="365.50" r="1.65" fill="#30e818"/>
<circle cx="389.40" cy="291.60" r="1.65" fill="#0a2250"/>
<circle cx="389.40" cy="317.90" r="1.65" fill="#7a7aff"/>
<circle cx="389.50" cy="349.30" r="1.65" fill="#30e818"/>
<rect x="387.93" y="355.43" width="3.13" height="3.13" fill="#b44a14"/>
<circle cx="402.20" cy="353.00" r="1.65" fill="#0a2250"/>
<circle cx="402.20" cy="358.90" r="1.65" fill="#7a7aff"/>
<circle cx="402.20" cy="365.70" r="1.65" fill="#b44a14"/>
<rect x="422.23" y="300.73" width="3.13" height="3.13" fill="#7a7aff"/>
<rect x="422.23" y="314.33" width="3.13" height="3.13" fill="#ff10ff"/>
<rect x="422.23" y="336.63" width="3.13" height="3.13" fill="#1040c8"/>
<circle cx="423.80" cy="346.50" r="1.65" fill="#000000"/>
<circle cx="423.80" cy="355.10" r="1.65" fill="#0a2250"/>
<rect x="422.23" y="360.53" width="3.13" height="3.13" fill="#8ed868"/>
<rect x="434.93" y="283.83" width="3.13" height="3.13" fill="#ff10ff"/>
<rect x="434.93" y="290.53" width="3.13" height="3.13" fill="#7a7aff"/>
<circle cx="436.50" cy="312.40" r="1.65" fill="#0a2250"/>
<circle cx="436.50" cy="333.50" r="1.65" fill="#0a2250"/>
<circle cx="436.50" cy="335.90" r="1.65" fill="#000000"/>
<circle cx="436.50" cy="341.80" r="1.65" fill="#0a2250"/>
<circle cx="436.50" cy="348.80" r="1.65" fill="#40d4ff"/>
<rect x="434.93" y="359.43" width="3.13" height="3.13" fill="#8ed868"/>
<rect x="447.83" y="302.23" width="3.13" height="3.13" fill="#7a7aff"/>
<rect x="447.83" y="306.13" width="3.13" height="3.13" fill="#ff10ff"/>
<circle cx="449.40" cy="337.40" r="1.65" fill="#1040c8"/>
<circle cx="449.40" cy="339.80" r="1.65" fill="#000000"/>
<circle cx="449.40" cy="348.80" r="1.65" fill="#40d4ff"/>
<rect x="447.83" y="360.23" width="3.13" height="3.13" fill="#1a1898"/>
<rect x="461.03" y="319.23" width="3.13" height="3.13" fill="#ff10ff"/>
<rect x="461.03" y="328.93" width="3.13" height="3.13" fill="#0a2250"/>
<circle cx="462.60" cy="342.20" r="1.65" fill="#000000"/>
<circle cx="462.60" cy="356.40" r="1.65" fill="#30e818"/>
<rect x="461.03" y="360.63" width="3.13" height="3.13" fill="#40d4ff"/>
<rect x="473.73" y="344.73" width="3.13" height="3.13" fill="#ff10ff"/>
<rect x="473.73" y="347.03" width="3.13" height="3.13" fill="#000000"/>
<circle cx="475.30" cy="364.40" r="1.65" fill="#40d4ff"/>
<line x1="340.40" y1="268.80" x2="340.40" y2="367.30" stroke="#000" stroke-width="1.4"/>
<line x1="336.00" y1="366.70" x2="486.50" y2="366.70" stroke="#000" stroke-width="1.6"/>
<line x1="336.00" y1="269.60" x2="340.40" y2="269.60" stroke="#000" stroke-width="1.3"/>
<text transform="translate(332.45,273.05) scale(1.12,1)" font-size="10.2" text-anchor="end" font-weight="normal" class="tk">5000</text>
<line x1="336.00" y1="289.00" x2="340.40" y2="289.00" stroke="#000" stroke-width="1.3"/>
<text transform="translate(332.45,292.45) scale(1.12,1)" font-size="10.2" text-anchor="end" font-weight="normal" class="tk">4000</text>
<line x1="336.00" y1="308.40" x2="340.40" y2="308.40" stroke="#000" stroke-width="1.3"/>
<text transform="translate(332.45,311.85) scale(1.12,1)" font-size="10.2" text-anchor="end" font-weight="normal" class="tk">3000</text>
<line x1="336.00" y1="327.80" x2="340.40" y2="327.80" stroke="#000" stroke-width="1.3"/>
<text transform="translate(332.45,331.25) scale(1.12,1)" font-size="10.2" text-anchor="end" font-weight="normal" class="tk">2000</text>
<line x1="336.00" y1="347.20" x2="340.40" y2="347.20" stroke="#000" stroke-width="1.3"/>
<text transform="translate(332.45,350.65) scale(1.12,1)" font-size="10.2" text-anchor="end" font-weight="normal" class="tk">1000</text>
<line x1="336.00" y1="366.60" x2="340.40" y2="366.60" stroke="#000" stroke-width="1.3"/>
<text transform="translate(332.45,370.05) scale(1.12,1)" font-size="10.2" text-anchor="end" font-weight="normal" class="tk">0</text>
<text transform="translate(470.10,261.50) scale(1.2,1)" font-size="12" text-anchor="start" font-weight="bold" >(ii)</text>
<text transform="translate(9.40,249.90) scale(1.07,1)" font-size="15.4" text-anchor="start" font-weight="bold" >B</text>
<circle cx="87.70" cy="259.20" r="1.90" fill="#000000"/>
<text transform="translate(98.20,262.20) scale(1.05,1)" font-size="9.4" text-anchor="start" font-weight="normal" >Low</text>
<rect x="156.39" y="257.19" width="3.61" height="3.61" fill="#000000"/>
<text transform="translate(167.20,262.00) scale(1.05,1)" font-size="9.4" text-anchor="start" font-weight="normal" >Risk</text>
<circle cx="358.20" cy="259.20" r="1.90" fill="#000000"/>
<text transform="translate(368.70,262.20) scale(1.05,1)" font-size="9.4" text-anchor="start" font-weight="normal" >Low</text>
<rect x="426.89" y="257.19" width="3.61" height="3.61" fill="#000000"/>
<text transform="translate(437.70,262.00) scale(1.05,1)" font-size="9.4" text-anchor="start" font-weight="normal" >Risk</text>
<text transform="translate(34.9,318.8) rotate(-90) scale(1,1.3)" font-size="9.1" text-anchor="middle">Proportion (%)</text>
<text transform="translate(299.7,317.5) rotate(-90) scale(1,1.45)" font-size="8.8" text-anchor="middle">CD200 binding sites</text>
<text transform="translate(82.30,377.30) rotate(-45)" font-size="8.1" text-anchor="end">Ungated</text>
<text transform="translate(98.00,375.80) rotate(-45)" font-size="8.1" text-anchor="end" textLength="57" lengthAdjust="spacing">CD34<tspan dy="-2.5" font-size="7.8">+</tspan><tspan dy="2.5">/CD19</tspan><tspan dy="-2.5" font-size="7.8">+</tspan></text>
<text transform="translate(111.30,375.80) rotate(-45)" font-size="8.1" text-anchor="end" textLength="57" lengthAdjust="spacing">CD34<tspan dy="-2.5" font-size="7.8">+</tspan><tspan dy="2.5">/CD19</tspan><tspan dy="-2.5" font-size="7.8">−</tspan></text>
<text transform="translate(125.90,375.80) rotate(-45)" font-size="8.1" text-anchor="end" textLength="57" lengthAdjust="spacing">CD34<tspan dy="-2.5" font-size="7.8">−</tspan><tspan dy="2.5">/CD19</tspan><tspan dy="-2.5" font-size="7.8">+</tspan></text>
<text transform="translate(136.10,375.80) rotate(-45)" font-size="8.1" text-anchor="end" textLength="57" lengthAdjust="spacing">CD34<tspan dy="-2.5" font-size="7.8">−</tspan><tspan dy="2.5">/CD19</tspan><tspan dy="-2.5" font-size="7.8">−</tspan></text>
<text transform="translate(157.30,377.30) rotate(-45)" font-size="8.1" text-anchor="end">Ungated</text>
<text transform="translate(173.90,375.80) rotate(-45)" font-size="8.1" text-anchor="end" textLength="57" lengthAdjust="spacing">CD34<tspan dy="-2.5" font-size="7.8">+</tspan><tspan dy="2.5">/CD19</tspan><tspan dy="-2.5" font-size="7.8">+</tspan></text>
<text transform="translate(186.10,375.80) rotate(-45)" font-size="8.1" text-anchor="end" textLength="57" lengthAdjust="spacing">CD34<tspan dy="-2.5" font-size="7.8">+</tspan><tspan dy="2.5">/CD19</tspan><tspan dy="-2.5" font-size="7.8">−</tspan></text>
<text transform="translate(199.90,375.80) rotate(-45)" font-size="8.1" text-anchor="end" textLength="57" lengthAdjust="spacing">CD34<tspan dy="-2.5" font-size="7.8">−</tspan><tspan dy="2.5">/CD19</tspan><tspan dy="-2.5" font-size="7.8">+</tspan></text>
<text transform="translate(212.10,375.80) rotate(-45)" font-size="8.1" text-anchor="end" textLength="57" lengthAdjust="spacing">CD34<tspan dy="-2.5" font-size="7.8">−</tspan><tspan dy="2.5">/CD19</tspan><tspan dy="-2.5" font-size="7.8">−</tspan></text>
<text transform="translate(353.30,377.30) rotate(-45)" font-size="8.1" text-anchor="end">Ungated</text>
<text transform="translate(370.20,375.80) rotate(-45)" font-size="8.1" text-anchor="end" textLength="57" lengthAdjust="spacing">CD34<tspan dy="-2.5" font-size="7.8">+</tspan><tspan dy="2.5">/CD19</tspan><tspan dy="-2.5" font-size="7.8">+</tspan></text>
<text transform="translate(382.50,375.80) rotate(-45)" font-size="8.1" text-anchor="end" textLength="57" lengthAdjust="spacing">CD34<tspan dy="-2.5" font-size="7.8">+</tspan><tspan dy="2.5">/CD19</tspan><tspan dy="-2.5" font-size="7.8">−</tspan></text>
<text transform="translate(395.50,375.80) rotate(-45)" font-size="8.1" text-anchor="end" textLength="57" lengthAdjust="spacing">CD34<tspan dy="-2.5" font-size="7.8">−</tspan><tspan dy="2.5">/CD19</tspan><tspan dy="-2.5" font-size="7.8">+</tspan></text>
<text transform="translate(407.90,375.80) rotate(-45)" font-size="8.1" text-anchor="end" textLength="57" lengthAdjust="spacing">CD34<tspan dy="-2.5" font-size="7.8">−</tspan><tspan dy="2.5">/CD19</tspan><tspan dy="-2.5" font-size="7.8">−</tspan></text>
<text transform="translate(426.90,377.30) rotate(-45)" font-size="8.1" text-anchor="end">Ungated</text>
<text transform="translate(444.50,375.80) rotate(-45)" font-size="8.1" text-anchor="end" textLength="57" lengthAdjust="spacing">CD34<tspan dy="-2.5" font-size="7.8">+</tspan><tspan dy="2.5">/CD19</tspan><tspan dy="-2.5" font-size="7.8">+</tspan></text>
<text transform="translate(456.20,375.80) rotate(-45)" font-size="8.1" text-anchor="end" textLength="57" lengthAdjust="spacing">CD34<tspan dy="-2.5" font-size="7.8">+</tspan><tspan dy="2.5">/CD19</tspan><tspan dy="-2.5" font-size="7.8">−</tspan></text>
<text transform="translate(470.60,375.80) rotate(-45)" font-size="8.1" text-anchor="end" textLength="57" lengthAdjust="spacing">CD34<tspan dy="-2.5" font-size="7.8">−</tspan><tspan dy="2.5">/CD19</tspan><tspan dy="-2.5" font-size="7.8">+</tspan></text>
<text transform="translate(482.50,375.80) rotate(-45)" font-size="8.1" text-anchor="end" textLength="57" lengthAdjust="spacing">CD34<tspan dy="-2.5" font-size="7.8">−</tspan><tspan dy="2.5">/CD19</tspan><tspan dy="-2.5" font-size="7.8">−</tspan></text>
<rect x="1" y="1" width="518" height="423" fill="none" stroke="#000" stroke-width="2"/>
</svg>
</body></html>
